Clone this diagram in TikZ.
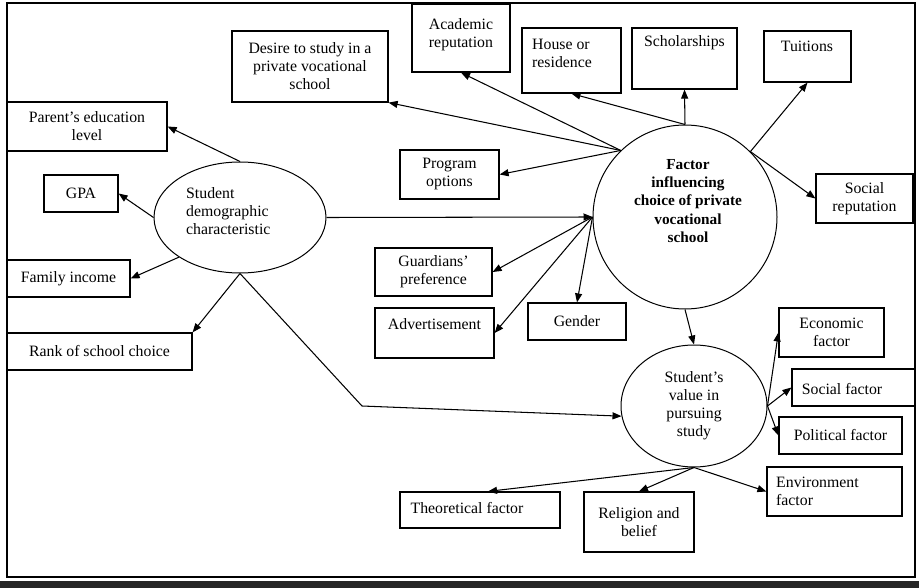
\documentclass[tikz,border=0pt]{standalone}
\usepackage{fontspec}
\setmainfont{Liberation Serif}
\usetikzlibrary{arrows.meta,shapes.geometric,calc}
\begin{document}
\begin{tikzpicture}[x=1pt,y=-1pt,
  every node/.style={font=\fontsize{15.8}{18}\selectfont},
  box/.style={draw, line width=1.2pt, inner sep=0pt, align=center},
  lbl/.style={inner sep=0pt, align=center},
  oval/.style={draw, ellipse, line width=1pt, inner sep=0pt, align=center},
  arr/.style={line width=1.05pt, -{Triangle[length=9pt,width=7pt]}}]
\useasboundingbox (0,0) rectangle (919,588);
\fill[white] (0,0) rectangle (919,588);
\draw[line width=1.3pt] (7,3) rectangle (915,577);
\fill[black!85] (0,581) rectangle (919,588);

% top boxes
\node[box, minimum width=156pt, minimum height=71pt] (desire) at (310,66.5) {Desire to study in a\\private vocational\\school};
\node[box, minimum width=98pt, minimum height=68pt] (acad) at (461,38) {};
\node[lbl] (acadT) at (461,34.5) {Academic\\reputation};
\node[box, minimum width=99pt, minimum height=65pt] (house) at (571.5,60.5) {};
\node[lbl, align=left, anchor=west] (houseT) at (532,53) {House or\\residence};
\node[box, minimum width=105pt, minimum height=61pt] (schol) at (684.5,58.5) {};
\node[lbl] (scholT) at (684.5,43) {Scholarships};
\node[box, minimum width=87pt, minimum height=51pt] (tuit) at (807.5,56.5) {};
\node[lbl] (tuitT) at (807,46) {Tuitions};
\node[box, minimum width=97pt, minimum height=49pt] (socrep) at (864.5,198.5) {Social\\reputation};
\node[box, minimum width=99pt, minimum height=49pt] (prog) at (449.5,174.5) {Program\\options};
\node[box, minimum width=117pt, minimum height=48pt] (guard) at (433.5,272) {Guardians’\\preference};
\node[box, minimum width=119pt, minimum height=50pt] (advert) at (434.5,333) {};
\node[lbl] (advertT) at (434.5,324) {Advertisement};
\node[box, minimum width=98pt, minimum height=37pt] (gender) at (577,321.5) {Gender};

% left boxes
\node[box, minimum width=160pt, minimum height=49pt] (parent) at (87,126.5) {Parent’s education\\level};
\node[box, minimum width=74pt, minimum height=37pt] (gpa) at (81,193.5) {GPA};
\node[box, minimum width=123pt, minimum height=37pt] (family) at (68.5,278.5) {Family income};
\node[box, minimum width=185pt, minimum height=37pt] (rank) at (99.5,351.5) {Rank of school choice};

% right / bottom boxes
\node[box, minimum width=105pt, minimum height=49pt] (econ) at (831.5,332.5) {Economic\\factor};
\node[box, minimum width=123pt, minimum height=37pt] (socf) at (853.5,387.5) {};
\node[lbl] (socfT) at (842,389) {Social factor};
\node[box, minimum width=123pt, minimum height=37pt] (polit) at (840.5,435.5) {Political factor};
\node[box, minimum width=135pt, minimum height=49pt] (envir) at (834.5,491.5) {};
\node[lbl, align=left, anchor=west] (envirT) at (776,491) {Environment\\factor};
\node[box, minimum width=160pt, minimum height=36pt] (theo) at (480,510) {};
\node[lbl] (theoT) at (467,508) {Theoretical factor};
\node[box, minimum width=110pt, minimum height=60pt] (relig) at (639,522) {Religion and\\belief};

% ovals
\node[oval, minimum width=172pt, minimum height=111pt] (demo) at (240,217.5) {};
\node[lbl, align=left, anchor=west] (demoT) at (186,211) {Student\\demographic\\characteristic};
\node[draw, circle, line width=1pt, inner sep=0pt, minimum size=184pt] (factor) at (685,217) {};
\node[lbl, font=\bfseries\fontsize{15.3}{18.2}\selectfont] (factorT) at (688,201) {Factor\\influencing\\choice of private\\vocational\\school};
\node[oval, minimum width=146pt, minimum height=122pt] (value) at (694,406) {Student’s\\value in\\pursuing\\study};

% connectors from factor
\draw[arr] (factor.134) -- (desire.south east);
\draw[arr] (factor.134) -- (acad.south);
\draw[arr] (factor.134) -- (prog.east);
\draw[arr] (factor.north) -- (house.south);
\draw[arr] (factor.north) -- (schol.south);
\draw[arr] (factor.45) -- (tuit.south);
\draw[arr] (factor.45) -- (socrep.west);
\draw[arr] (factor.west) -- (guard.east);
\draw[arr] (factor.west) -- (advert.east);
\draw[arr] (factor.west) -- (gender.north);
\draw[arr] (factor.south) -- (value.north);

% connectors from demographic
\draw[arr] (demo.east) -- (factor.west);
\draw[arr] (demo.north) -- (parent.east);
\draw[arr] (demo.west) -- (gpa.east);
\draw[arr] (demo.213) -- (family.east);
\draw[arr] (demo.south) -- (rank.north east);
\coordinate (bend) at (362,406);
\draw[arr] (demo.south) -- (bend) -- (value.188);

% connectors from value
\draw[arr] (value.east) -- (econ.west);
\draw[arr] (value.east) -- (socf.west);
\draw[arr] (value.east) -- (polit.west);
\draw[arr] (value.south) -- ([xshift=8pt]theo.north);
\draw[arr] (value.south) -- (relig.north);
\draw[arr] (value.south) -- (envir.west);
\end{tikzpicture}
\end{document}
